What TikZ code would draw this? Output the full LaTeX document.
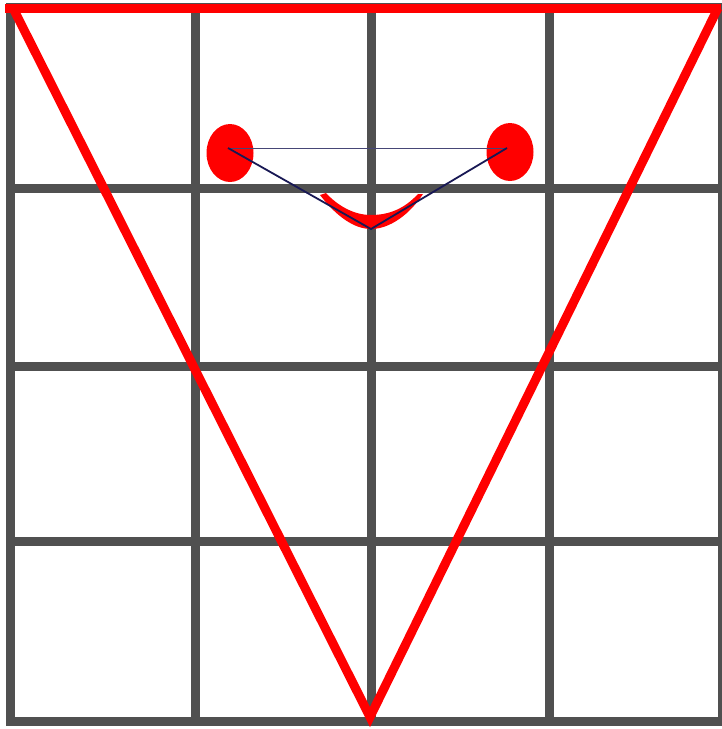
\documentclass[tikz,border=0pt]{standalone}
\usetikzlibrary{shapes.geometric}
\begin{document}
\begin{tikzpicture}[x=1pt,y=-1pt,
  gridline/.style={draw=gridgray,line width=9pt,line cap=rect},
  redline/.style={draw=red,line width=9pt,line join=miter},
  blob/.style={ellipse,fill=red,inner sep=0pt,minimum width=47pt,minimum height=58pt},
  navyline/.style={draw=navy,line width=1.8pt},
  thinnavy/.style={draw=navy!80,line width=0.9pt}]
\definecolor{gridgray}{RGB}{80,80,80}
\definecolor{navy}{RGB}{24,24,84}
\useasboundingbox (0,0) rectangle (721,729);
% grid
\foreach \x in {10,195,371,549,722} \draw[gridline] (\x,7) -- (\x,721);
\foreach \y in {7,188,366,541,721} \draw[gridline] (10,\y) -- (722,\y);
% red triangle
\coordinate (tl) at (13,8);
\coordinate (tr) at (718,8);
\coordinate (bv) at (370,717);
\draw[redline] (5,8) -- (721,8);
\draw[redline] (tl) -- (bv) -- (tr);
% eyes
\node[blob] (leye) at (230,153) {};
\node[blob] (reye) at (510,152) {};
% mouth crescent
\fill[red] (320,195) .. controls (336,216) and (354,229) .. (371,229)
  .. controls (390,229) and (410,214) .. (423,194)
  -- (418,194) .. controls (405,208) and (390,215) .. (371,215)
  .. controls (354,215) and (338,206) .. (326,193) -- cycle;
% navy lines
\coordinate (lp) at (228,148);
\coordinate (rp) at (507,148);
\coordinate (mp) at (371,229);
\draw[thinnavy] (lp) -- (rp);
\draw[navyline] (lp) -- (mp) -- (rp);
\end{tikzpicture}
\end{document}
